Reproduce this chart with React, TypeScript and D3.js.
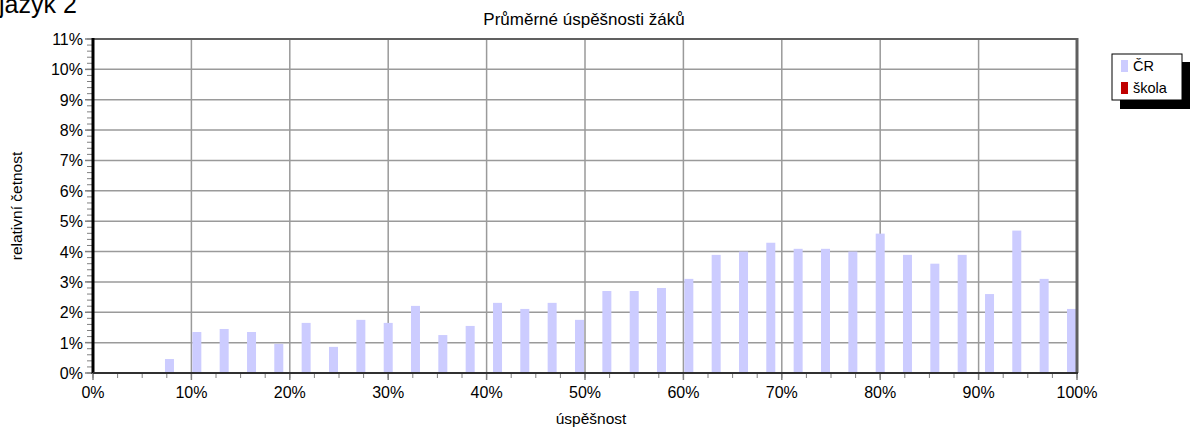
import React from "react";
import * as d3 from "d3";

// úspěšnost (%) – body rozdělení po 1/36
const scores = [
  0, 2.78, 5.56, 8.33, 11.11, 13.89, 16.67, 19.44, 22.22, 25, 27.78, 30.56,
  33.33, 36.11, 38.89, 41.67, 44.44, 47.22, 50, 52.78, 55.56, 58.33, 61.11,
  63.89, 66.67, 69.44, 72.22, 75, 77.78, 80.56, 83.33, 86.11, 88.89, 91.67,
  94.44, 97.22, 100,
];
// relativní četnost ČR (%)
const crValues = [
  0, 0, 0, 0.46, 1.35, 1.45, 1.35, 0.96, 1.65, 0.86, 1.75, 1.65, 2.21, 1.25,
  1.55, 2.31, 2.11, 2.31, 1.75, 2.7, 2.7, 2.8, 3.1, 3.89, 4.0, 4.29, 4.09,
  4.09, 4.0, 4.59, 3.89, 3.6, 3.89, 2.6, 4.69, 3.1, 2.11,
];
// relativní četnost škola (%)
const skolaValues = scores.map(() => 0);

const xTicks = [0, 10, 20, 30, 40, 50, 60, 70, 80, 90, 100];
const yTicks = [0, 1, 2, 3, 4, 5, 6, 7, 8, 9, 10, 11];
const legendItems = [
  { label: "ČR", color: "#ccccff" },
  { label: "škola", color: "#c00000" },
];

const W = 1191;
const H = 432;
const left = 93;
const right = 1077;
const top = 39;
const bottom = 373;
const font = "Arial, 'Liberation Sans', sans-serif";

export default function App() {
  const x = d3.scaleLinear().domain([0, 100]).range([left, right]);
  const y = d3.scaleLinear().domain([0, 11]).range([bottom, top]);

  const xMinor = d3.range(0, 100.01, 2.5);
  const yMinor = d3.range(0, 11.01, 0.2);

  return (
    <svg
      width={W}
      height={H}
      style={{ position: "absolute", left: 0, top: 0, background: "#fff" }}
      fontFamily={font}
    >
      <text x={-1} y={13} fontSize={25} fill="#000">jazyk 2</text>
      <text x={584} y={25} fontSize={17} textAnchor="middle">
        Průměrné úspěšnosti žáků
      </text>

      {/* gridlines */}
      {yTicks.slice(1, -1).map((t) => (
        <line key={"gy" + t} x1={left} x2={right} y1={y(t)} y2={y(t)} stroke="#9a9a9a" strokeWidth={1.5} />
      ))}
      {xTicks.slice(1, -1).map((t) => (
        <line key={"gx" + t} x1={x(t)} x2={x(t)} y1={top} y2={bottom} stroke="#9a9a9a" strokeWidth={1.5} />
      ))}

      {/* bars */}
      {scores.map((s, i) => {
        const h = y(0) - y(crValues[i]);
        return h > 0 ? (
          <rect key={"b" + i} x={x(s) - 10} y={y(crValues[i])} width={9} height={h} fill="#ccccff" />
        ) : null;
      })}
      {scores.map((s, i) => {
        const h = y(0) - y(skolaValues[i]);
        return h > 0 ? (
          <rect key={"s" + i} x={x(s) + 1} y={y(skolaValues[i])} width={9} height={h} fill="#c00000" />
        ) : null;
      })}

      {/* frame */}
      <line x1={left} x2={right} y1={top} y2={top} stroke="#606060" strokeWidth={2} />
      <line x1={right} x2={right} y1={top - 1} y2={bottom} stroke="#606060" strokeWidth={3} />

      {/* y axis */}
      {yMinor.map((t, i) => (
        <line key={"ym" + i} x1={left - 6} x2={left} y1={y(t)} y2={y(t)} stroke="#808080" strokeWidth={1} />
      ))}
      {yTicks.map((t) => (
        <line key={"yt" + t} x1={left - 8} x2={left} y1={y(t)} y2={y(t)} stroke="#808080" strokeWidth={1.5} />
      ))}
      <line x1={left} x2={left} y1={top - 1} y2={bottom + 1} stroke="#000" strokeWidth={3} />
      {yTicks.map((t) => (
        <text key={"yl" + t} x={left - 10} y={y(t) + 6} fontSize={16} textAnchor="end">
          {t}%
        </text>
      ))}

      {/* x axis */}
      {xMinor.map((t, i) => (
        <line key={"xm" + i} x1={x(t)} x2={x(t)} y1={bottom} y2={bottom + 5} stroke="#808080" strokeWidth={1} />
      ))}
      {xTicks.map((t) => (
        <line key={"xt" + t} x1={x(t)} x2={x(t)} y1={bottom} y2={bottom + 7} stroke="#808080" strokeWidth={1.5} />
      ))}
      <line x1={left} x2={right + 1} y1={bottom} y2={bottom} stroke="#303030" strokeWidth={2} />
      {xTicks.map((t) => (
        <text key={"xl" + t} x={x(t)} y={bottom + 25} fontSize={16} textAnchor="middle">
          {t}%
        </text>
      ))}

      <text x={591} y={424} fontSize={15.5} textAnchor="middle">úspěšnost</text>
      <text transform={`translate(22, 206) rotate(-90)`} fontSize={15.5} textAnchor="middle">
        relativní četnost
      </text>

      {/* legend */}
      <rect x={1120} y={62} width={70} height={47} fill="#000" />
      <rect x={1112} y={54} width={70} height={46} fill="#fff" stroke="#000" strokeWidth={1} />
      {legendItems.map((d, i) => (
        <g key={d.label} transform={`translate(1121, ${60 + i * 22})`}>
          <rect width={7} height={12} fill={d.color} />
          <text x={12} y={11} fontSize={14.5}>{d.label}</text>
        </g>
      ))}
    </svg>
  );
}
